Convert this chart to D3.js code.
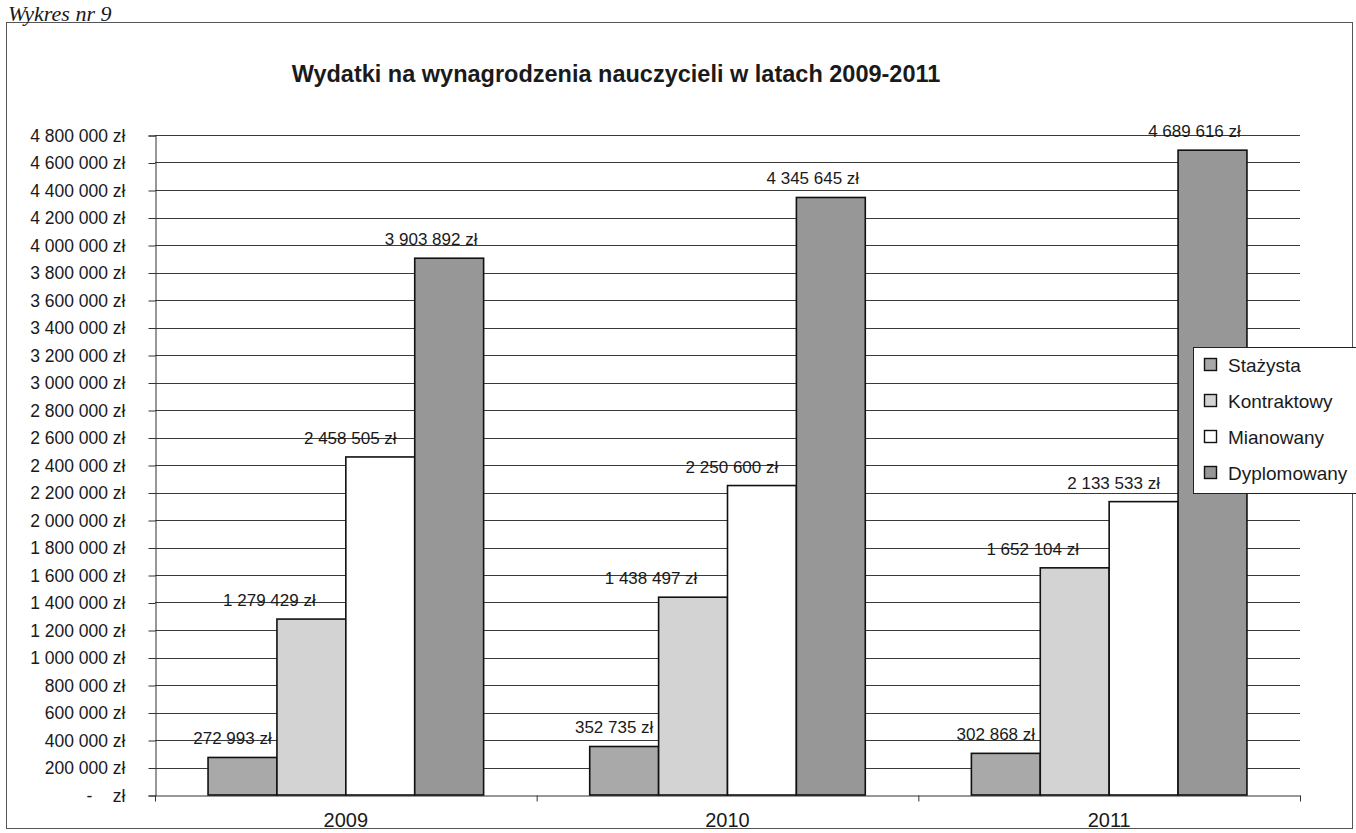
<!DOCTYPE html>
<html>
<head>
<meta charset="utf-8">
<script src="https://cdn.jsdelivr.net/npm/d3@7/dist/d3.min.js"></script>
<style>
  html, body { margin: 0; padding: 0; background: #fff; }
  svg { display: block; }
  text { font-family: "Liberation Sans", Arial, sans-serif; fill: #1a1a1a; }
</style>
</head>
<body>
<svg id="chart" width="1356" height="833"></svg>
<script>
// ---------- DATA ----------
const years = ["2009", "2010", "2011"];
const seriesNames = ["Stażysta", "Kontraktowy", "Mianowany", "Dyplomowany"];
const stazysta    = [272993, 352735, 302868];
const kontraktowy = [1279429, 1438497, 1652104];
const mianowany   = [2458505, 2250600, 2133533];
const dyplomowany = [3903892, 4345645, 4689616];
const yTickValues = [0, 200000, 400000, 600000, 800000, 1000000, 1200000, 1400000,
  1600000, 1800000, 2000000, 2200000, 2400000, 2600000, 2800000, 3000000, 3200000,
  3400000, 3600000, 3800000, 4000000, 4200000, 4400000, 4600000, 4800000];
const titleText = "Wydatki na wynagrodzenia nauczycieli w latach 2009-2011";
const captionText = "Wykres nr 9";

// ---------- STYLE ----------
const seriesValues = [stazysta, kontraktowy, mianowany, dyplomowany];
const fills = ["#a9a9a9", "#d3d3d3", "#ffffff", "#979797"];
const labelShift = [-10, -42, -30, -18];

const locale = d3.formatLocale({ decimal: ",", thousands: " ", grouping: [3], currency: ["", " zł"] });
const fmt = locale.format("$,.0f");

const svg = d3.select("#chart");

// caption + frame
svg.append("rect").attr("x", 6.5).attr("y", 22.5).attr("width", 1346).attr("height", 806)
  .attr("fill", "none").attr("stroke", "#555").attr("stroke-width", 1);

svg.append("text").attr("x", 8).attr("y", 21)
  .style("font-family", "'Liberation Serif', 'Times New Roman', serif")
  .style("font-style", "italic").style("font-size", "22px")
  .text(captionText);

svg.append("text").attr("x", 616).attr("y", 82).attr("text-anchor", "middle")
  .style("font-weight", "bold").style("font-size", "23.5px")
  .text(titleText);

// scales
const plotLeft = 155, plotRight = 1300;
const x0 = d3.scaleBand().domain(years).range([plotLeft, plotRight]).paddingInner(0).paddingOuter(0);
const x1 = d3.scaleBand().domain(d3.range(seriesNames.length)).range([0, x0.bandwidth()])
  .paddingInner(0).paddingOuter(0.77);
const y = d3.scaleLinear().domain([0, 4800000]).range([795, 135]);

// gridlines
svg.append("g").selectAll("line").data(yTickValues.filter(v => v > 0)).join("line")
  .attr("x1", plotLeft).attr("x2", plotRight)
  .attr("y1", d => Math.round(y(d)) + 0.5).attr("y2", d => Math.round(y(d)) + 0.5)
  .attr("stroke", "#3a3a3a").attr("stroke-width", 1);

// y axis
const yAxis = svg.append("g").attr("transform", `translate(${plotLeft + 0.5},0.5)`)
  .call(d3.axisLeft(y).tickValues(yTickValues).tickSize(7).tickPadding(23)
    .tickFormat(d => d === 0 ? "zł" : fmt(d)));
yAxis.selectAll("text").style("font-size", "17.5px").style("font-family", "'Liberation Sans', Arial, sans-serif").attr("fill", "#1a1a1a");
yAxis.selectAll("line").attr("stroke", "#333");
yAxis.select(".domain").attr("stroke", "#333");
yAxis.selectAll(".tick").filter(d => d === 0).append("text")
  .attr("x", -66).attr("dy", "0.32em").attr("text-anchor", "middle")
  .attr("fill", "#1a1a1a").style("font-size", "17.5px").text("-");

// x axis
const xAxis = svg.append("g").attr("transform", `translate(0,${y(0) + 0.5})`)
  .call(d3.axisBottom(x0).tickSize(0).tickPadding(17));
xAxis.select(".domain").attr("stroke", "#333");
xAxis.selectAll("text").style("font-size", "20px").style("font-family", "'Liberation Sans', Arial, sans-serif").attr("fill", "#1a1a1a");
// boundary ticks
const bounds = years.map(yr => x0(yr)).concat([x0(years[years.length - 1]) + x0.bandwidth()]);
xAxis.selectAll("line.bound").data(bounds).join("line").attr("class", "bound")
  .attr("x1", d => d + 0.5).attr("x2", d => d + 0.5).attr("y1", 0).attr("y2", 6)
  .attr("stroke", "#333");

// bars
const groups = svg.append("g").selectAll("g").data(years).join("g")
  .attr("transform", d => `translate(${x0(d)},0)`);

groups.selectAll("rect").data((yr, i) => seriesValues.map((arr, s) => ({ s, v: arr[i] }))).join("rect")
  .attr("x", d => x1(d.s))
  .attr("width", x1.bandwidth())
  .attr("y", d => y(d.v))
  .attr("height", d => y(0) - y(d.v))
  .attr("fill", d => fills[d.s])
  .attr("stroke", "#111").attr("stroke-width", 1.6);

groups.selectAll("text.val").data((yr, i) => seriesValues.map((arr, s) => ({ s, v: arr[i] }))).join("text")
  .attr("class", "val")
  .attr("x", d => x1(d.s) + x1.bandwidth() / 2 + labelShift[d.s])
  .attr("y", d => y(d.v) - 13)
  .attr("text-anchor", "middle")
  .style("font-size", "17px")
  .text(d => fmt(d.v));

// legend
const lg = svg.append("g").attr("transform", "translate(1193,347)");
lg.append("rect").attr("x", 0.5).attr("y", 0.5).attr("width", 180).attr("height", 146)
  .attr("fill", "#fff").attr("stroke", "#222").attr("stroke-width", 1);
const items = lg.selectAll("g").data(seriesNames).join("g")
  .attr("transform", (d, i) => `translate(11,${18 + i * 36})`);
items.append("rect").attr("x", 0.5).attr("y", -6.5).attr("width", 12).attr("height", 12)
  .attr("fill", (d, i) => fills[i]).attr("stroke", "#111").attr("stroke-width", 1.4);
items.append("text").attr("x", 24).attr("dy", "0.35em").style("font-size", "19px").text(d => d);
</script>
</body>
</html>
